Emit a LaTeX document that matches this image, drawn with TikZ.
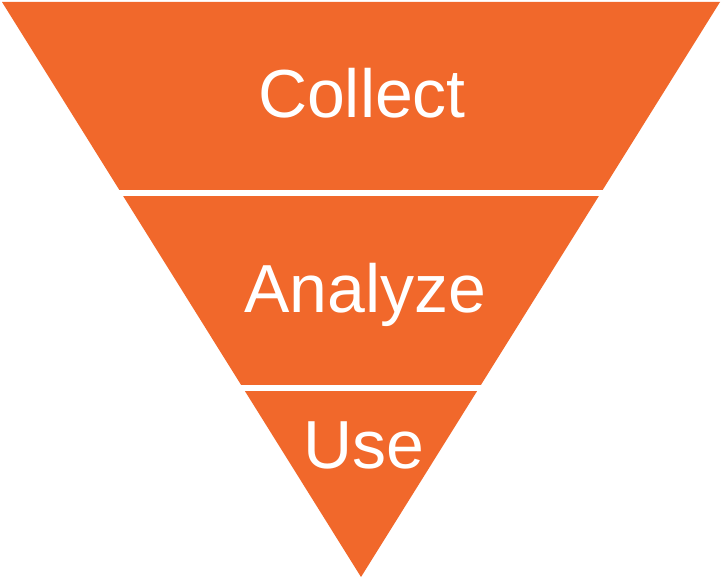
\documentclass[tikz,border=0pt]{standalone}
\usepackage{fontspec}
\setmainfont{Liberation Sans}
\definecolor{funnelorange}{HTML}{F1682B}
\tikzset{
  band/.style={white, font=\fontsize{68}{80}\selectfont, anchor=base},
  cut/.style={white, line width=6pt}
}
\begin{document}
\begin{tikzpicture}[x=1pt, y=-1pt]
        \useasboundingbox[fill=white] (0, 0) rectangle (722, 578);

        \fill[funnelorange] (2, 2) -- (720, 2) -- (361, 577) -- cycle;

        \draw[cut] (0, 193) -- (722, 193);
        \draw[cut] (0, 388) -- (722, 388);

        \node[band] (collect) at (362, 117) {Collect};
        \node[band] (analyze) at (365, 312) {Analyze};
        \node[band] (use)     at (364, 468) {Use};
    \end{tikzpicture}
\end{document}
